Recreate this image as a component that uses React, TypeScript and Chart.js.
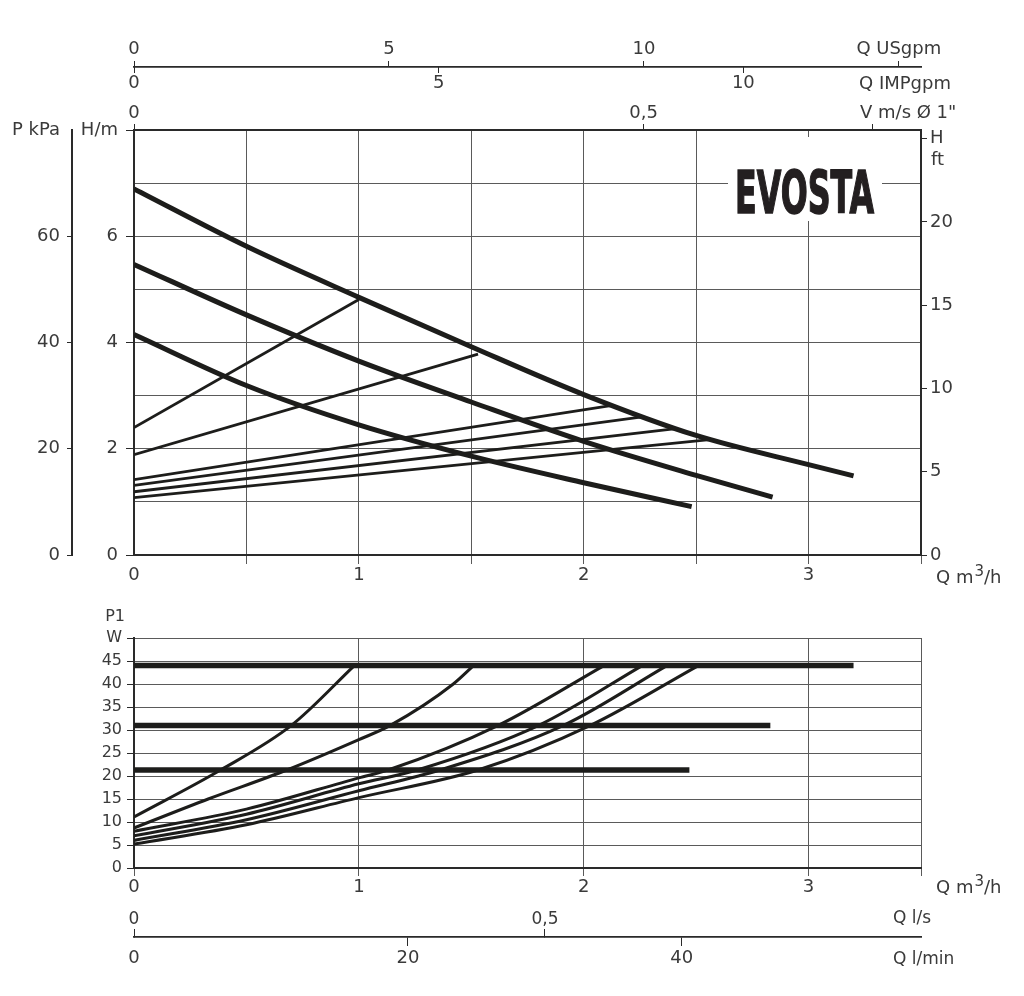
import React, { useEffect, useRef } from 'react';
import { Chart, registerables } from 'chart.js';

Chart.register(...registerables);

// ---------------- Head curves: H [m] vs Q [m³/h]
const HEAD_MAX_Q = [0, 0.5, 1, 1.5, 2, 2.5, 3, 3.2];
const HEAD_MAX_H = [6.89, 5.81, 4.85, 3.92, 3.02, 2.25, 1.7, 1.49];
const HEAD_MID_Q = [0, 0.5, 1, 1.5, 2, 2.5, 2.84];
const HEAD_MID_H = [5.47, 4.52, 3.65, 2.88, 2.14, 1.5, 1.09];
const HEAD_LOW_Q = [0, 0.5, 1, 1.5, 2, 2.48];
const HEAD_LOW_H = [4.15, 3.19, 2.45, 1.86, 1.36, 0.91];
// system lines: start at Q = 0, end on the max curve
const SYS_START_H = [2.4, 1.89, 1.42, 1.31, 1.19, 1.08];
const SYS_END_Q = [1.0, 1.53, 2.12, 2.26, 2.41, 2.56];
const SYS_END_H = [4.81, 3.78, 2.81, 2.6, 2.38, 2.17];

// ---------------- Power: P1 [W] vs Q [m³/h]
const P1_LEVEL_W = [44, 31, 21.3];
const P1_LEVEL_QEND = [3.2, 2.83, 2.47];
const P1_CURVE_Q = [
  [0, 0.385, 0.7, 0.98],
  [0, 0.33, 0.68, 1, 1.14, 1.42, 1.51],
  [0, 0.5, 1, 1.13, 1.62, 2.09],
  [0, 0.5, 1, 1.26, 1.8, 2.26],
  [0, 0.5, 1, 1.36, 1.91, 2.37],
  [0, 0.5, 1, 1.53, 2.03, 2.51],
];
const P1_CURVE_W = [
  [11.1, 21.3, 31, 44],
  [8.7, 15, 21.3, 27.9, 31, 40, 44],
  [8.0, 12.8, 19.6, 21.3, 31, 44],
  [7.0, 11.7, 18.3, 21.3, 31, 44],
  [6.0, 10.5, 16.8, 21.3, 31, 44],
  [5.2, 9.4, 15.3, 21.3, 31, 44],
];

// ---------------- Axes / ticks
const Q_MAX = 3.5;
const H_MAX = 8;
const W_MAX = 50;
const KPA_PER_M = 10;
const FT_PER_M = 3.19;
const USGPM_PER_Q = 4.41;
const IMPGPM_PER_Q = 3.69;
const VMS_PER_Q = 0.2206;
const LS_PER_Q = 0.2736;
const LMIN_PER_Q = 16.42;

const Q_TICKS_HEAD = [0, 0.5, 1, 1.5, 2, 2.5, 3, 3.5];
const H_TICKS = [0, 1, 2, 3, 4, 5, 6, 7, 8];
const KPA_TICKS = [0, 20, 40, 60, 80];
const FT_TICKS = [0, 5, 10, 15, 20, 25];
const USGPM_TICKS = [0, 5, 10, 15];
const IMPGPM_TICKS = [0, 5, 10];
const VMS_TICKS = [0, 0.5, 0.725];
const Q_TICKS_P1 = [0, 1, 2, 3, 3.5];
const W_TICKS = [0, 5, 10, 15, 20, 25, 30, 35, 40, 45, 50];
const LS_TICKS = [0, 0.5];
const LMIN_TICKS = [0, 20, 40];

const FONT = '"DejaVu Sans", "Liberation Sans", sans-serif';
const TXT = '#3a3a3a';
const LINE = '#1d1d1b';
const GRID = '#5a5a5a';
const AXIS = '#2a2a2a';
const NONE = 'rgba(0,0,0,0)';

const fmt = (v: number) => String(v).replace('.', ',');
const setTicks = (vals: number[]) => (scale: any) => {
  scale.ticks = vals.map((v) => ({ value: v }));
};
const setW = (w: number) => (scale: any) => {
  scale.width = w;
};
const setH = (h: number) => (scale: any) => {
  scale.height = h;
};
const font = (size: number) => ({ size, family: FONT });

const curve = (qs: number[], vs: number[], width: number, smooth: boolean) => ({
  data: qs.map((q, i) => ({ x: q, y: vs[i] })),
  borderColor: LINE,
  borderWidth: width,
  pointRadius: 0,
  fill: false,
  tension: smooth ? 0.4 : 0,
  cubicInterpolationMode: smooth ? 'monotone' : 'default',
});

function text(ctx: CanvasRenderingContext2D, s: string, x: number, y: number, align: CanvasTextAlign = 'left', size = 18) {
  ctx.font = `${size}px ${FONT}`;
  ctx.textAlign = align;
  ctx.textBaseline = 'middle';
  ctx.fillStyle = TXT;
  ctx.fillText(s, x, y);
  return ctx.measureText(s).width;
}

function qUnit(ctx: CanvasRenderingContext2D, x: number, y: number) {
  const w1 = text(ctx, 'Q m', x, y);
  const w2 = text(ctx, '3', x + w1 + 1, y - 6, 'left', 15);
  text(ctx, '/h', x + w1 + 1 + w2, y);
}

const headPlugin = {
  id: 'headText',
  beforeDatasetsDraw(chart: any) {
    const ctx = chart.ctx;
    ctx.save();
    ctx.fillStyle = '#ffffff';
    ctx.fillRect(728, 137, 154, 84);
    ctx.restore();
  },
  afterDraw(chart: any) {
    const ctx = chart.ctx as CanvasRenderingContext2D;
    ctx.save();
    text(ctx, 'ft', 931, 160);
    text(ctx, 'Q IMPgpm', 905, 84, 'center');
    text(ctx, 'V m/s Ø 1"', 860, 113);
    qUnit(ctx, 936, 578);
    // logo
    ctx.font = 'bold 58px "Liberation Sans Narrow", "DejaVu Sans Condensed", "Liberation Sans", sans-serif';
    const w = ctx.measureText('EVOSTA').width;
    ctx.translate(735, 213);
    ctx.scale(139 / w, 1);
    ctx.textAlign = 'left';
    ctx.textBaseline = 'alphabetic';
    ctx.fillStyle = '#231f20';
    ctx.strokeStyle = '#231f20';
    ctx.lineWidth = 1.5;
    ctx.fillText('EVOSTA', 0, 0);
    ctx.strokeText('EVOSTA', 0, 0);
    ctx.restore();
  },
};

const powerPlugin = {
  id: 'powerText',
  afterDraw(chart: any) {
    const ctx = chart.ctx as CanvasRenderingContext2D;
    ctx.save();
    text(ctx, 'P1', 125, 17, 'right', 16);
    qUnit(ctx, 936, 288);
    text(ctx, 'Q l/s', 893, 319, 'left', 17);
    text(ctx, 'Q l/min', 893, 360, 'left', 17);
    ctx.restore();
  },
};

export default function App() {
  const headRef = useRef<HTMLCanvasElement>(null);
  const powerRef = useRef<HTMLCanvasElement>(null);

  useEffect(() => {
    Chart.defaults.font.family = FONT;
    Chart.defaults.color = TXT;

    const headDatasets: any[] = [
      curve(HEAD_MAX_Q, HEAD_MAX_H, 5, true),
      curve(HEAD_MID_Q, HEAD_MID_H, 5, true),
      curve(HEAD_LOW_Q, HEAD_LOW_H, 5, true),
      ...SYS_START_H.map((h0, i) => curve([0, SYS_END_Q[i]], [h0, SYS_END_H[i]], 2.8, false)),
    ];

    const head = new Chart(headRef.current as HTMLCanvasElement, {
      type: 'line',
      data: { datasets: headDatasets },
      plugins: [headPlugin],
      options: {
        responsive: false,
        animation: false,
        events: [],
        layout: { padding: { top: 30, left: 0, right: 0, bottom: 0 } },
        plugins: { legend: { display: false }, tooltip: { enabled: false } },
        scales: {
          x: {
            type: 'linear', axis: 'x', position: 'bottom', min: 0, max: Q_MAX, weight: 0,
            afterBuildTicks: setTicks(Q_TICKS_HEAD), afterFit: setH(45),
            ticks: {
              callback: (v: any) => (Number.isInteger(v) && v < Q_MAX ? String(v) : ''),
              font: font(18), color: TXT, padding: 1, maxRotation: 0, autoSkip: false,
            },
            grid: {
              color: GRID, lineWidth: 1, tickLength: 9,
              tickColor: (c: any) => (c.tick && c.tick.value === 0 ? NONE : GRID),
            },
            border: { display: true, color: AXIS, width: 2 },
          },
          y: {
            type: 'linear', axis: 'y', position: 'left', min: 0, max: H_MAX, weight: 0,
            afterBuildTicks: setTicks(H_TICKS), afterFit: setW(62),
            ticks: {
              callback: (v: any) => (v === H_MAX ? 'H/m' : v % 2 === 0 ? String(v) : ''),
              font: font(18), color: TXT, padding: 8, autoSkip: false,
            },
            grid: {
              color: GRID, lineWidth: 1, tickLength: 8,
              tickColor: (c: any) => (c.tick && c.tick.value % 2 === 0 ? AXIS : NONE),
            },
            border: { display: true, color: AXIS, width: 2 },
          },
          kpa: {
            type: 'linear', axis: 'y', position: 'left', min: 0, max: H_MAX * KPA_PER_M, weight: 1,
            afterBuildTicks: setTicks(KPA_TICKS), afterFit: setW(72),
            ticks: {
              callback: (v: any) => (v === 80 ? 'P kPa' : String(v)),
              font: font(18), color: TXT, padding: 7, autoSkip: false,
            },
            grid: {
              drawOnChartArea: false, tickLength: 5,
              tickColor: (c: any) => (c.tick && c.tick.value === 80 ? NONE : AXIS),
            },
            border: { display: true, color: AXIS, width: 2 },
          },
          ft: {
            type: 'linear', axis: 'y', position: 'right', min: 0, max: H_MAX * FT_PER_M, weight: 0,
            afterBuildTicks: setTicks(FT_TICKS), afterFit: setW(103),
            ticks: {
              callback: (v: any) => (v === 25 ? 'H' : String(v)),
              font: font(18), color: TXT, padding: 3, autoSkip: false,
            },
            grid: { drawOnChartArea: false, tickLength: 6, tickColor: AXIS },
            border: { display: true, color: AXIS, width: 2 },
          },
          vms: {
            type: 'linear', axis: 'x', position: 'top', min: 0, max: Q_MAX * VMS_PER_Q, weight: 0,
            afterBuildTicks: setTicks(VMS_TICKS), afterFit: setH(63),
            ticks: {
              callback: (v: any) => (v === 0.725 ? '' : fmt(v)),
              font: font(18), color: TXT, padding: 0, maxRotation: 0, autoSkip: false,
            },
            grid: { drawOnChartArea: false, tickLength: 6, tickColor: AXIS },
            border: { display: true, color: AXIS, width: 2 },
          },
          imp: {
            type: 'linear', axis: 'x', position: 'top', min: 0, max: Q_MAX * IMPGPM_PER_Q, weight: 1,
            afterBuildTicks: setTicks(IMPGPM_TICKS), afterFit: setH(0),
            ticks: {
              callback: (v: any) => String(v),
              font: font(18), color: TXT, padding: 6, mirror: true, maxRotation: 0, autoSkip: false,
            },
            grid: { drawOnChartArea: false, tickLength: -6, tickColor: AXIS },
            border: { display: true, color: AXIS, width: 1.5 },
          },
          us: {
            type: 'linear', axis: 'x', position: 'top', min: 0, max: Q_MAX * USGPM_PER_Q, weight: 2,
            afterBuildTicks: setTicks(USGPM_TICKS), afterFit: setH(37),
            ticks: {
              callback: (v: any) => (v === 15 ? 'Q USgpm' : String(v)),
              font: font(18), color: TXT, padding: 1, maxRotation: 0, autoSkip: false,
            },
            grid: { drawOnChartArea: false, tickLength: 6, tickColor: AXIS },
            border: { display: true, color: AXIS, width: 1.5 },
          },
        },
      } as any,
    });

    const powerDatasets: any[] = [
      ...P1_LEVEL_W.map((w, i) => curve([0, P1_LEVEL_QEND[i]], [w, w], 5.5, false)),
      ...P1_CURVE_Q.map((qs, i) => curve(qs, P1_CURVE_W[i], 3, true)),
    ];

    const power = new Chart(powerRef.current as HTMLCanvasElement, {
      type: 'line',
      data: { datasets: powerDatasets },
      plugins: [powerPlugin],
      options: {
        responsive: false,
        animation: false,
        events: [],
        layout: { padding: { top: 38, left: 0, right: 103, bottom: 0 } },
        plugins: { legend: { display: false }, tooltip: { enabled: false } },
        scales: {
          x: {
            type: 'linear', axis: 'x', position: 'bottom', min: 0, max: Q_MAX, weight: 0,
            afterBuildTicks: setTicks(Q_TICKS_P1), afterFit: setH(69),
            ticks: {
              callback: (v: any) => (v < Q_MAX ? String(v) : ''),
              font: font(18), color: TXT, padding: 1, maxRotation: 0, autoSkip: false,
            },
            grid: { color: GRID, lineWidth: 1, tickLength: 8, tickColor: GRID },
            border: { display: true, color: AXIS, width: 2 },
          },
          ls: {
            type: 'linear', axis: 'x', position: 'bottom', min: 0, max: Q_MAX * LS_PER_Q, weight: 1,
            afterBuildTicks: setTicks(LS_TICKS), afterFit: setH(0),
            ticks: {
              callback: (v: any) => fmt(v),
              font: font(17), color: TXT, padding: 7, mirror: true, maxRotation: 0, autoSkip: false,
            },
            grid: { drawOnChartArea: false, tickLength: -8, tickColor: AXIS },
            border: { display: true, color: AXIS, width: 1.5 },
          },
          lmin: {
            type: 'linear', axis: 'x', position: 'bottom', min: 0, max: Q_MAX * LMIN_PER_Q, weight: 2,
            afterBuildTicks: setTicks(LMIN_TICKS), afterFit: setH(59),
            ticks: {
              callback: (v: any) => String(v),
              font: font(18), color: TXT, padding: 2, maxRotation: 0, autoSkip: false,
            },
            grid: {
              drawOnChartArea: false, tickLength: 9,
              tickColor: (c: any) => (c.tick && c.tick.value === 0 ? NONE : AXIS),
            },
            border: { display: true, color: AXIS, width: 1.5 },
          },
          y: {
            type: 'linear', axis: 'y', position: 'left', min: 0, max: W_MAX, weight: 0,
            afterBuildTicks: setTicks(W_TICKS), afterFit: setW(134),
            ticks: {
              callback: (v: any) => (v === W_MAX ? 'W' : String(v)),
              font: font(16), color: TXT, padding: 5, autoSkip: false,
            },
            grid: { color: GRID, lineWidth: 1, tickLength: 7, tickColor: AXIS },
            border: { display: true, color: AXIS, width: 2 },
          },
        },
      } as any,
    });

    return () => {
      head.destroy();
      power.destroy();
    };
  }, []);

  return (
    <div style={{ position: 'absolute', left: 0, top: 0, width: 1024, height: 996, background: '#ffffff' }}>
      <canvas ref={headRef} width={1024} height={600} style={{ position: 'absolute', left: 0, top: 0, width: 1024, height: 600 }} />
      <canvas ref={powerRef} width={1024} height={396} style={{ position: 'absolute', left: 0, top: 600, width: 1024, height: 396 }} />
    </div>
  );
}
